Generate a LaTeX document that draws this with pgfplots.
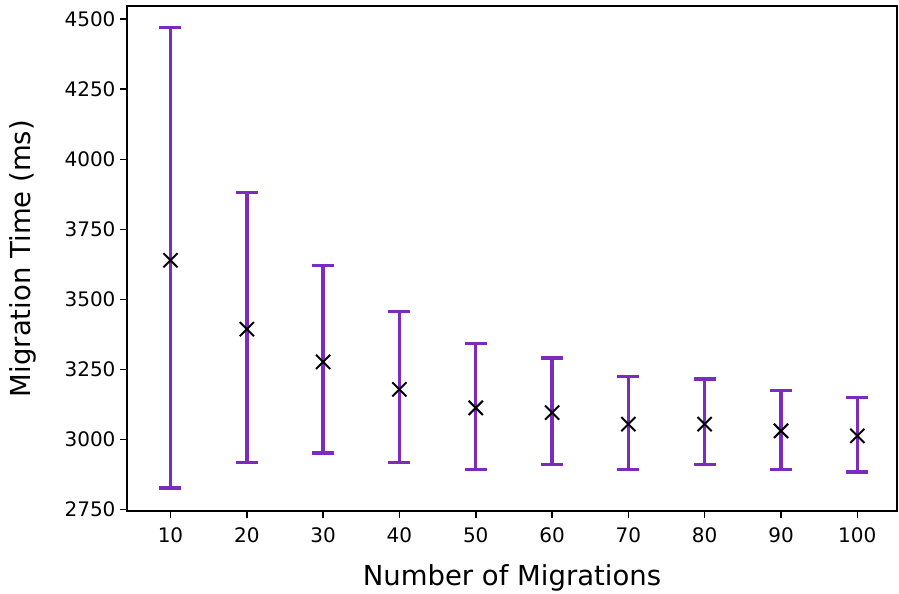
\documentclass[border=0pt]{standalone}
\usepackage{pgfplots}
\pgfplotsset{compat=1.18}
\usepackage{fontspec}
\setmainfont{DejaVu Sans}
\definecolor{barpurple}{HTML}{7B2CBF}
\pgfplotstableread{
x mean plus minus
10 3640 830 813
20 3394 487 476
30 3277 345 325
40 3179 278 261
50 3113 230 220
60 3096 195 185
70 3055 171 162
80 3055 161 144
90 3031 145 138
100 3013 137 129
}\datatable
\begin{document}
\begin{tikzpicture}
\begin{axis}[
  scale only axis,
  width=770bp, height=505bp,
  xmin=4.3, xmax=105.2,
  ymin=2745, ymax=4547,
  xtick={10,20,...,100},
  ytick={2750,3000,...,4500},
  tick pos=left,
  tick align=outside,
  major tick length=7bp,
  every tick/.style={black, line width=1.5bp},
  axis line style={line width=1.8bp},
  /pgf/number format/assume math mode=true,
  /pgf/number format/1000 sep={},
  ticklabel style={font=\fontsize{20bp}{24bp}\selectfont},
  xticklabel style={yshift=-6bp},
  yticklabel style={xshift=-1bp},
  xlabel={Number of Migrations},
  ylabel={Migration Time (ms)},
  label style={font=\fontsize{27.5bp}{32bp}\selectfont},
  xlabel style={yshift=-15bp},
  ylabel style={yshift=22bp},
  clip=false,
]
\addplot[
  only marks,
  mark=x,
  mark size=10bp,
  mark options={black, line width=2bp},
  error bars/.cd,
    y dir=both, y explicit,
    error bar style={barpurple, line width=3.4bp},
    error mark options={barpurple, rotate=90, mark size=11bp, line width=3.4bp},
] table[x=x, y=mean, y error plus=plus, y error minus=minus] {\datatable};
\end{axis}
\pgfresetboundingbox
\useasboundingbox ([shift={(-127bp,-83bp)}]current axis.south west) rectangle ([shift={(2bp,6bp)}]current axis.north east);
\end{tikzpicture}
\end{document}
